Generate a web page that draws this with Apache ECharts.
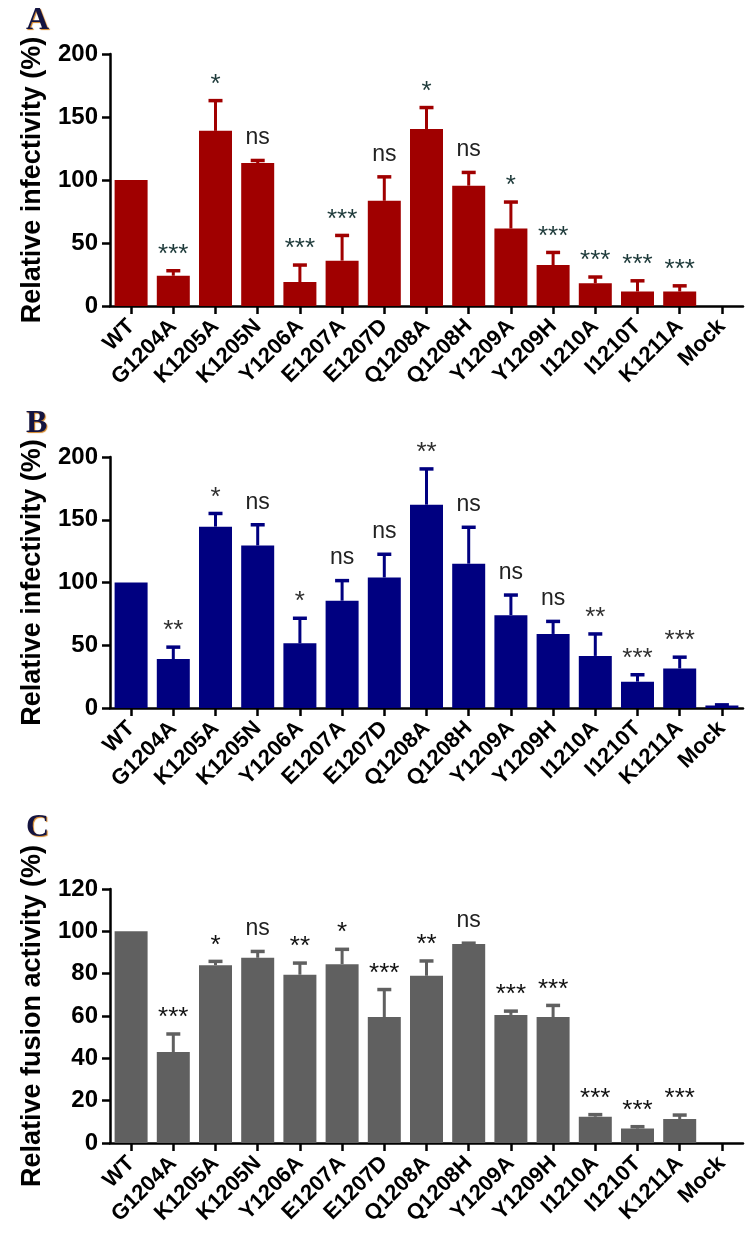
<!DOCTYPE html>
<html>
<head>
<meta charset="utf-8">
<script src="https://cdn.jsdelivr.net/npm/echarts@6/dist/echarts.min.js"></script>
<style>html,body{margin:0;padding:0;background:#fff;}#c{width:750px;height:1238px;}</style>
</head>
<body>
<div id="c"></div>
<script>
// ---- data ----
const categories = ['WT','G1204A','K1205A','K1205N','Y1206A','E1207A','E1207D','Q1208A','Q1208H','Y1209A','Y1209H','I1210A','I1210T','K1211A','Mock'];

const infectA = [100, 24, 139, 113.5, 19, 36, 83.5, 140.5, 95.5, 61.5, 32.5, 18, 11.5, 11.5, 0];
const sdA     = [0, 4, 24, 2, 13.5, 20, 19, 17, 10.5, 21, 10, 5, 8.5, 4.5, 0];
const sigA    = ['', '***', '*', 'ns', '***', '***', 'ns', '*', 'ns', '*', '***', '***', '***', '***', ''];

const infectB = [100, 39, 144.5, 129.5, 51.5, 85.5, 104, 162, 115, 74, 59, 41.5, 21, 31.5, 2];
const sdB     = [0, 9.5, 10.5, 16.5, 20, 16, 18.5, 28.5, 29, 16, 10, 17.5, 5.5, 9, 0.5];
const sigB    = ['', '**', '*', 'ns', '*', 'ns', 'ns', '**', 'ns', 'ns', 'ns', '**', '***', '***', ''];

const fusionC = [100, 43, 84, 87.5, 79.5, 84.5, 59.5, 79, 94, 60.5, 59.5, 12.4, 6.8, 11.3, 0];
const sdC     = [0, 8.5, 1.8, 3, 5.5, 7, 13, 7, 0.4, 1.8, 5.5, 1, 0.9, 1.9, 0];
const sigC    = ['', '***', '*', 'ns', '**', '*', '***', '**', 'ns', '***', '***', '***', '***', '***', ''];

const ticksAB = [0, 50, 100, 150, 200];
const ticksC  = [0, 20, 40, 60, 80, 100, 120];

// ---- chart ----
const FONT = '"Liberation Sans", Arial, sans-serif';
const colors = ['#a00000', '#000080', '#606060'];
const panels = [
  {vals: infectA, sd: sdA, sig: sigA, ticks: ticksAB, name: 'Relative infectivity (%)', top: 54, height: 252, sigColor: '#1e3a3a'},
  {vals: infectB, sd: sdB, sig: sigB, ticks: ticksAB, name: 'Relative infectivity (%)', top: 457, height: 251, sigColor: '#303030'},
  {vals: fusionC, sd: sdC, sig: sigC, ticks: ticksC, name: 'Relative fusion activity (%)', top: 889, height: 254, sigColor: '#111111'}
];

const grid = [], xAxis = [], yAxis = [], series = [];
panels.forEach((p, i) => {
  const t = p.ticks;
  grid.push({left: 110, right: 7, top: p.top, height: p.height});
  xAxis.push({
    type: 'category', gridIndex: i, data: categories,
    axisLine: {show: true, lineStyle: {color: '#000', width: 2.5}},
    axisTick: {show: true, alignWithLabel: true, length: 8, lineStyle: {color: '#000', width: 2.5}},
    axisLabel: {interval: 0, rotate: 45, margin: 17, color: '#000', fontFamily: FONT, fontWeight: 'bold', fontSize: 22}
  });
  yAxis.push({
    type: 'value', gridIndex: i, min: t[0], max: t[t.length - 1], interval: t[1] - t[0],
    name: p.name, nameLocation: 'middle', nameGap: 64,
    nameTextStyle: {color: '#000', fontFamily: FONT, fontWeight: 'bold', fontSize: 27},
    axisLine: {show: true, lineStyle: {color: '#000', width: 2.5}},
    axisTick: {show: true, length: 8, lineStyle: {color: '#000', width: 2.5}},
    axisLabel: {margin: 12, color: '#000', fontFamily: FONT, fontWeight: 'bold', fontSize: 24},
    splitLine: {show: false}
  });
  series.push({
    type: 'bar', xAxisIndex: i, yAxisIndex: i, data: p.vals, barWidth: 33,
    itemStyle: {color: colors[i]}, animation: false
  });
  const color = colors[i];
  series.push({
    type: 'custom', xAxisIndex: i, yAxisIndex: i, animation: false, z: 5,
    data: p.vals.map((v, k) => [k, v, p.sd[k]]),
    renderItem: function (params, api) {
      const k = api.value(0), m = api.value(1), s = api.value(2);
      const base = api.coord([k, m]);
      const top = api.coord([k, m + s]);
      const ch = [];
      if (s > 0) {
        ch.push({type: 'line', shape: {x1: base[0], y1: base[1], x2: top[0], y2: top[1]}, style: {stroke: color, lineWidth: 3}});
        ch.push({type: 'line', shape: {x1: top[0] - 7, y1: top[1], x2: top[0] + 7, y2: top[1]}, style: {stroke: color, lineWidth: 3.5}});
      }
      const lab = p.sig[params.dataIndex];
      if (lab) {
        const isNs = lab === 'ns';
        ch.push({type: 'text', style: {text: lab, x: top[0], y: top[1] - (isNs ? 11 : 3), textAlign: 'center', textVerticalAlign: 'bottom',
          font: (isNs ? '23px ' : '26px ') + FONT, fill: isNs ? '#222' : p.sigColor}});
      }
      return {type: 'group', children: ch};
    }
  });
});

const letterStyle = (t, y) => ({type: 'text', left: 26, top: y, style: {text: t, font: 'bold 32px "Liberation Serif", serif', fill: '#141440', textShadowColor: '#d08020', textShadowOffsetX: 1, textShadowOffsetY: 1, textShadowBlur: 1}});

const chart = echarts.init(document.getElementById('c'), null, {renderer: 'canvas'});
chart.setOption({
  backgroundColor: '#fff',
  animation: false,
  grid, xAxis, yAxis, series,
  graphic: [letterStyle('A', 5), letterStyle('B', 408), letterStyle('C', 812)]
});
</script>
</body>
</html>
